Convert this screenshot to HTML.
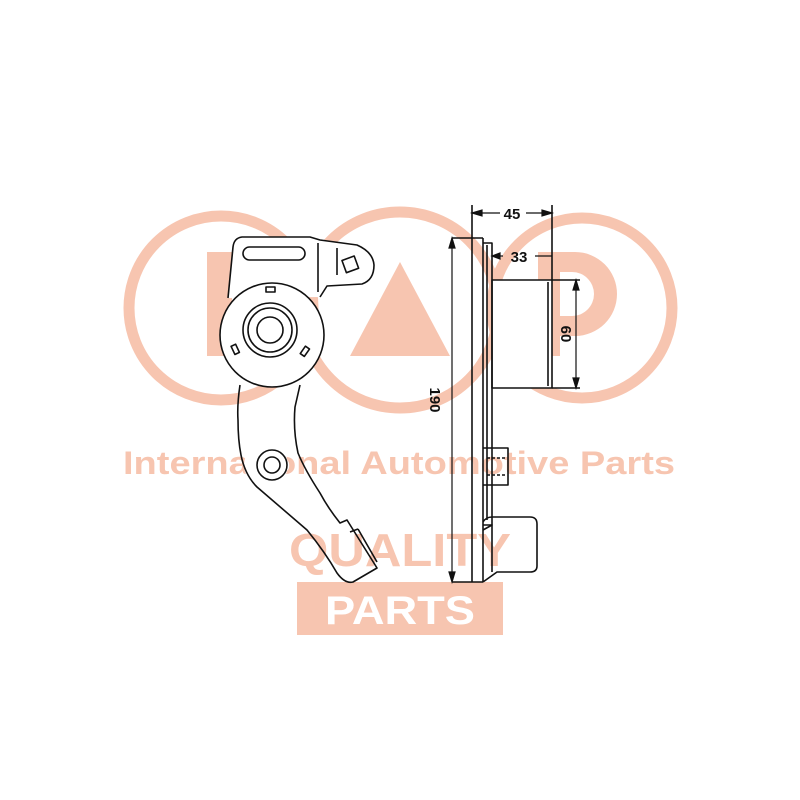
<!DOCTYPE html>
<html><head><meta charset="utf-8"><style>
html,body{margin:0;padding:0;background:#fff;width:800px;height:800px;overflow:hidden}
</style></head><body>
<svg width="800" height="800" viewBox="0 0 800 800" xmlns="http://www.w3.org/2000/svg">
<g fill="none" stroke="#f7c5b0" stroke-width="11">
<circle cx="221" cy="308" r="92"/>
<circle cx="400" cy="310" r="98"/>
<circle cx="582" cy="308" r="90"/>
</g>
<g fill="#f7c5b0">
<rect x="207" y="252" width="25" height="104"/>
<polygon points="400,262 350,356 450,356"/>
<path d="M538 252 H575 A42 42 0 0 1 575 336 H560 V356 H538 Z M560 272 V316 H572 A22 22 0 0 0 572 272 Z" fill-rule="evenodd"/>
</g>
<g fill="#f7c5b0" font-family="Liberation Sans, sans-serif" font-weight="bold">
<text x="399" y="474" font-size="32" text-anchor="middle" textLength="552" lengthAdjust="spacingAndGlyphs">International Automotive Parts</text>
<text x="400" y="566" font-size="46" text-anchor="middle" textLength="222" lengthAdjust="spacingAndGlyphs">QUALITY</text>
<rect x="297" y="582" width="206" height="53"/>
<text x="490" y="592" font-size="7">®</text>
</g>
<text x="400" y="624" fill="#fff" font-family="Liberation Sans, sans-serif" font-weight="bold" font-size="40" text-anchor="middle" textLength="150" lengthAdjust="spacingAndGlyphs">PARTS</text>

<g fill="#fff" stroke="none">
<path d="M228 298 L233 247 Q234 238 242 237 L310 237 L320 240 L357 245 Q373 252 374 265 Q374 280 362 284 L327 286 L320 297 Z"/>
<circle cx="272" cy="335" r="52"/>
<circle cx="266" cy="465" r="22"/>
<rect x="492" y="280" width="60" height="108"/>
</g>

<g fill="none" stroke="#111" stroke-width="1.6" stroke-linejoin="round">
<path d="M228 298 L233 247 Q234 238 242 237 L310 237 L320 240 L357 245 Q373 252 374 265 Q374 280 362 284 L327 286 L320 297"/>
<rect x="243" y="247" width="62" height="13" rx="6.5"/>
<line x1="318" y1="243" x2="318" y2="292"/>
<line x1="337" y1="248" x2="337" y2="275"/>
<rect x="344" y="258" width="13" height="13" transform="rotate(-20 350 265)"/>
<circle cx="272" cy="335" r="52"/>
<circle cx="270" cy="330" r="27"/>
<circle cx="270" cy="330" r="22"/>
<circle cx="270" cy="330" r="13"/>
<rect x="266" y="287" width="9" height="5"/>
<rect x="233" y="345" width="5" height="9" transform="rotate(-25 235 350)"/>
<rect x="302" y="347" width="5" height="9" transform="rotate(35 305 352)"/>
<path d="M240 385 Q237 405 238 420 Q238 440 241 455 Q245 475 257 487 L307 530 Q325 552 337 573 Q345 584 353 582 L377 568 L347 520 L340 523 Q328 508 320 493 Q305 470 298 453 Q293 430 295 407 L300 385"/>
<line x1="350" y1="532" x2="358" y2="529"/>
<line x1="358" y1="529" x2="377" y2="562"/>
<circle cx="272" cy="465" r="15"/>
<circle cx="272" cy="465" r="8"/>

<line x1="452" y1="238" x2="483" y2="238"/>
<line x1="452" y1="582" x2="483" y2="582"/>
<line x1="472" y1="205" x2="472" y2="582"/>
<line x1="483" y1="238" x2="483" y2="582"/>
<path d="M483 243 H492 V525 H483"/>
<line x1="487" y1="245" x2="487" y2="520"/>
<rect x="492" y="280" width="60" height="108"/>
<line x1="548" y1="282" x2="548" y2="386"/>
<path d="M483 448 H508 V485 H483"/>
<line x1="487" y1="458" x2="506" y2="458" stroke-dasharray="3 2"/>
<line x1="487" y1="475" x2="506" y2="475" stroke-dasharray="3 2"/>
<path d="M483 522 Q486 517 492 517 H530 Q537 517 537 524 V566 Q537 572 530 572 H497 L483 582"/>
<path d="M483 530 L492 525 V572"/>
<line x1="552" y1="205" x2="552" y2="280"/>
<line x1="552" y1="280" x2="580" y2="280"/>
<line x1="552" y1="388" x2="580" y2="388"/>
</g>
<g stroke="#111" stroke-width="1.2" fill="#111">
<line x1="452" y1="238" x2="452" y2="582"/>
<polygon points="452,238 449,248 455,248"/><polygon points="452,582 449,572 455,572"/>
<line x1="472" y1="213" x2="500" y2="213"/><line x1="526" y1="213" x2="552" y2="213"/>
<polygon points="472,213 482,210 482,216"/><polygon points="552,213 542,210 542,216"/>
<line x1="492" y1="256" x2="503" y2="256"/><line x1="535" y1="256" x2="552" y2="256"/>
<polygon points="492,256 500,253 500,259"/>
<line x1="576" y1="280" x2="576" y2="388"/>
<polygon points="576,280 573,290 579,290"/><polygon points="576,388 573,378 579,378"/>
</g>
<g font-family="Liberation Sans, sans-serif" font-size="15" font-weight="bold" fill="#111">
<text x="512" y="219" text-anchor="middle">45</text>
<text x="519" y="262" text-anchor="middle">33</text>
<text transform="translate(561 334) rotate(90)" text-anchor="middle">60</text>
<text transform="translate(430 400) rotate(90)" text-anchor="middle">190</text>
</g>
</svg>
</body></html>
